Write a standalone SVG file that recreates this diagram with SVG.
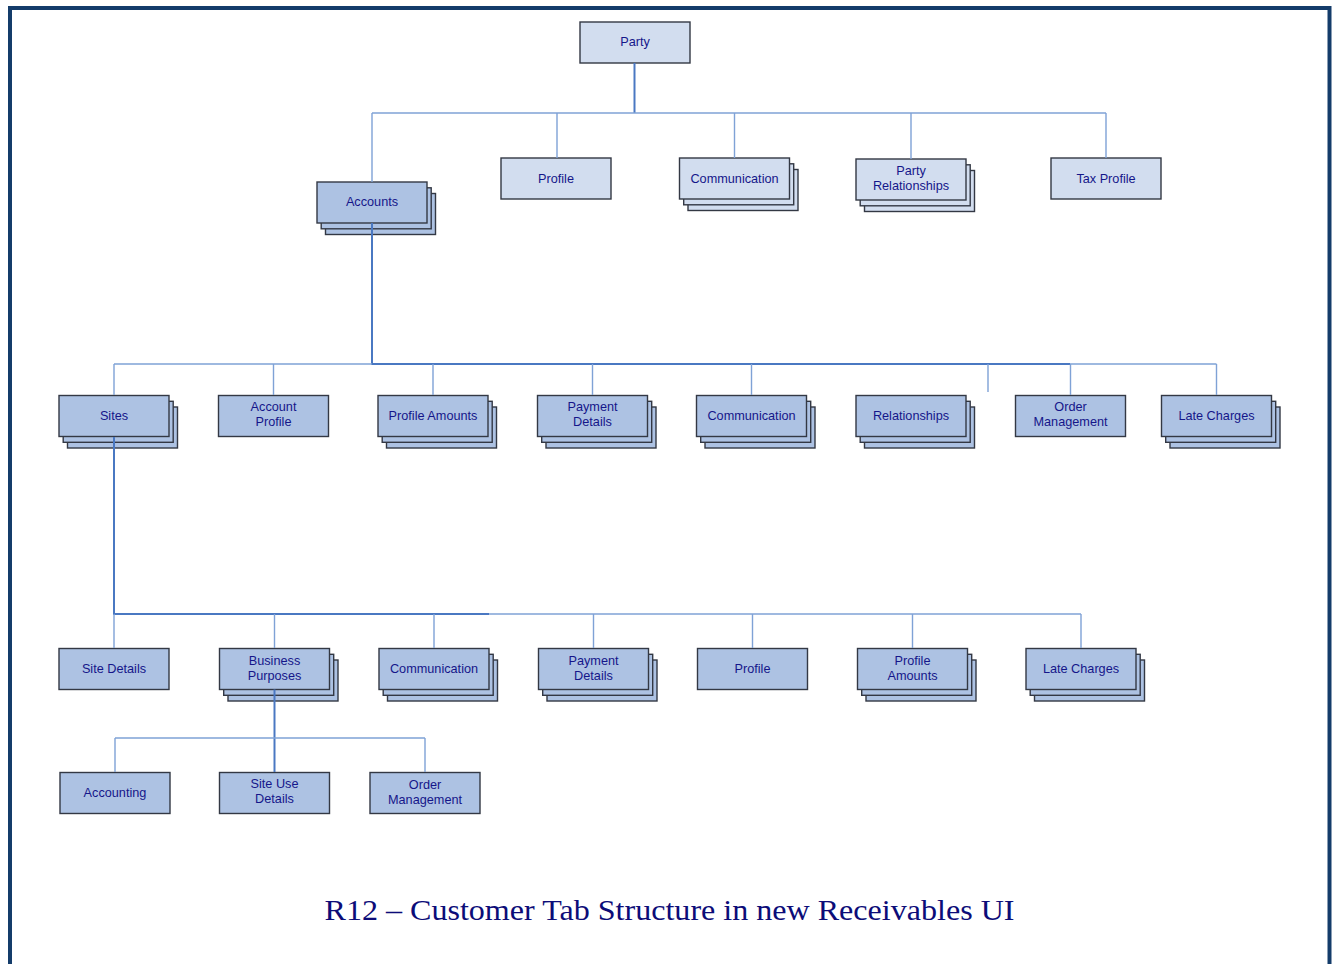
<svg xmlns="http://www.w3.org/2000/svg" width="1334" height="964" viewBox="0 0 1334 964">
  <style>
    .box { stroke: #333844; stroke-width: 1.4; }
    .top { fill: #d2ddef; }
    .sub { fill: #adc2e3; }
    .lbl { font-family: "Liberation Sans", Arial, sans-serif; font-size: 12.7px; fill: #15168a; text-anchor: middle; }
    .trunk { stroke: #4a78c2; stroke-width: 2; fill: none; }
    .branch { stroke: #7fa2d6; stroke-width: 1.4; fill: none; }
    .title { font-family: "Liberation Serif", "Times New Roman", serif; font-size: 30px; fill: #0c0c78; text-anchor: middle; }
  </style>
  <defs>
    <!-- single card and three-deep card stack, 110 x 41 -->
    <g id="cardTop"><rect class="box top" x="0" y="0" width="110" height="41"/></g>
    <g id="stackTop">
      <rect class="box top" x="8.5" y="11.5" width="110" height="41"/>
      <rect class="box top" x="4.2" y="5.8" width="110" height="41"/>
      <rect class="box top" x="0" y="0" width="110" height="41"/>
    </g>
    <g id="cardSub"><rect class="box sub" x="0" y="0" width="110" height="41"/></g>
    <g id="stackSub">
      <rect class="box sub" x="8.5" y="11.5" width="110" height="41"/>
      <rect class="box sub" x="4.2" y="5.8" width="110" height="41"/>
      <rect class="box sub" x="0" y="0" width="110" height="41"/>
    </g>
  </defs>

  <rect x="0" y="0" width="1334" height="964" fill="#ffffff"/>
  <!-- page frame (open at the bottom) -->
  <path d="M10 970 V8 H1329.5 V970" fill="none" stroke="#143c6a" stroke-width="4"/>

  <g id="n-party"><use href="#cardTop" x="580" y="22"/><text class="lbl" x="635" y="46">Party</text></g>

  <g id="n-profile"><use href="#cardTop" x="501" y="158"/><text class="lbl" x="556" y="182.5">Profile</text></g>
  <g id="n-communication"><use href="#stackTop" x="679.5" y="158"/><text class="lbl" x="734.5" y="182.5">Communication</text></g>
  <g id="n-party-relationships"><use href="#stackTop" x="856" y="159"/><text class="lbl" x="911" y="175">Party</text><text class="lbl" x="911" y="190">Relationships</text></g>
  <g id="n-tax-profile"><use href="#cardTop" x="1051" y="158"/><text class="lbl" x="1106" y="182.5">Tax Profile</text></g>

  <g id="n-accounts"><use href="#stackSub" x="317" y="182"/><text class="lbl" x="372" y="205.5">Accounts</text></g>

  <g id="n-sites"><use href="#stackSub" x="59" y="395.5"/><text class="lbl" x="114" y="419.5">Sites</text></g>
  <g id="n-account-profile"><use href="#cardSub" x="218.5" y="395.5"/><text class="lbl" x="273.5" y="411">Account</text><text class="lbl" x="273.5" y="426">Profile</text></g>
  <g id="n-profile-amounts"><use href="#stackSub" x="378" y="395.5"/><text class="lbl" x="433" y="419.5">Profile Amounts</text></g>
  <g id="n-payment-details"><use href="#stackSub" x="537.5" y="395.5"/><text class="lbl" x="592.5" y="411">Payment</text><text class="lbl" x="592.5" y="426">Details</text></g>
  <g id="n-communication-2"><use href="#stackSub" x="696.5" y="395.5"/><text class="lbl" x="751.5" y="419.5">Communication</text></g>
  <g id="n-relationships"><use href="#stackSub" x="856" y="395.5"/><text class="lbl" x="911" y="419.5">Relationships</text></g>
  <g id="n-order-management"><use href="#cardSub" x="1015.5" y="395.5"/><text class="lbl" x="1070.5" y="411">Order</text><text class="lbl" x="1070.5" y="426">Management</text></g>
  <g id="n-late-charges"><use href="#stackSub" x="1161.5" y="395.5"/><text class="lbl" x="1216.5" y="420">Late Charges</text></g>

  <g id="n-site-details"><use href="#cardSub" x="59" y="648.5"/><text class="lbl" x="114" y="672.5">Site Details</text></g>
  <g id="n-business-purposes"><use href="#stackSub" x="219.5" y="648.5"/><text class="lbl" x="274.5" y="665">Business</text><text class="lbl" x="274.5" y="680">Purposes</text></g>
  <g id="n-communication-3"><use href="#stackSub" x="379" y="648.5"/><text class="lbl" x="434" y="672.5">Communication</text></g>
  <g id="n-payment-details-2"><use href="#stackSub" x="538.5" y="648.5"/><text class="lbl" x="593.5" y="665">Payment</text><text class="lbl" x="593.5" y="680">Details</text></g>
  <g id="n-profile-2"><use href="#cardSub" x="697.5" y="648.5"/><text class="lbl" x="752.5" y="672.5">Profile</text></g>
  <g id="n-profile-amounts-2"><use href="#stackSub" x="857.5" y="648.5"/><text class="lbl" x="912.5" y="664.5">Profile</text><text class="lbl" x="912.5" y="679.5">Amounts</text></g>
  <g id="n-late-charges-2"><use href="#stackSub" x="1026" y="648.5"/><text class="lbl" x="1081" y="672.5">Late Charges</text></g>

  <g id="n-accounting"><use href="#cardSub" x="60" y="772.5"/><text class="lbl" x="115" y="796.5">Accounting</text></g>
  <g id="n-site-use-details"><use href="#cardSub" x="219.5" y="772.5"/><text class="lbl" x="274.5" y="788">Site Use</text><text class="lbl" x="274.5" y="803">Details</text></g>
  <g id="n-order-management-2"><use href="#cardSub" x="370" y="772.5"/><text class="lbl" x="425" y="789">Order</text><text class="lbl" x="425" y="804">Management</text></g>

  <!-- connectors sit above the cards so the trunks show through the stacked layers -->
  <g id="connectors">
    <!-- Party to first tier -->
    <path class="trunk" d="M634.5 63 V113"/>
    <path class="branch" d="M372 113 H1106"/>
    <path class="branch" d="M372 113 V182 M557 113 V158 M734.5 113 V158 M911 113 V159 M1106 113 V158"/>
    <!-- Accounts to second tier -->
    <path class="trunk" d="M372 223 V364 H1070"/>
    <path class="branch" d="M114 364 H372 M1070 364 H1216.5"/>
    <path class="branch" d="M114 364 V395 M273.5 364 V395 M433 364 V395 M592.5 364 V395 M751.5 364 V395 M988 364 V392 M1070.5 364 V395 M1216.5 364 V395"/>
    <!-- Sites to third tier -->
    <path class="trunk" d="M114 437 V614 H489"/>
    <path class="branch" d="M489 614 H1081"/>
    <path class="branch" d="M114 614 V648 M274.5 614 V648 M434 614 V648 M593.5 614 V648 M752.5 614 V648 M912.5 614 V648 M1081 614 V648"/>
    <!-- Business Purposes to fourth tier -->
    <path class="trunk" d="M274.5 689.5 V772"/>
    <path class="branch" d="M115 738 H425 M115 738 V772 M425 738 V772"/>
  </g>

  <text class="title" x="669.5" y="920" textLength="690" lengthAdjust="spacingAndGlyphs">R12 – Customer Tab Structure in new Receivables UI</text>
</svg>
